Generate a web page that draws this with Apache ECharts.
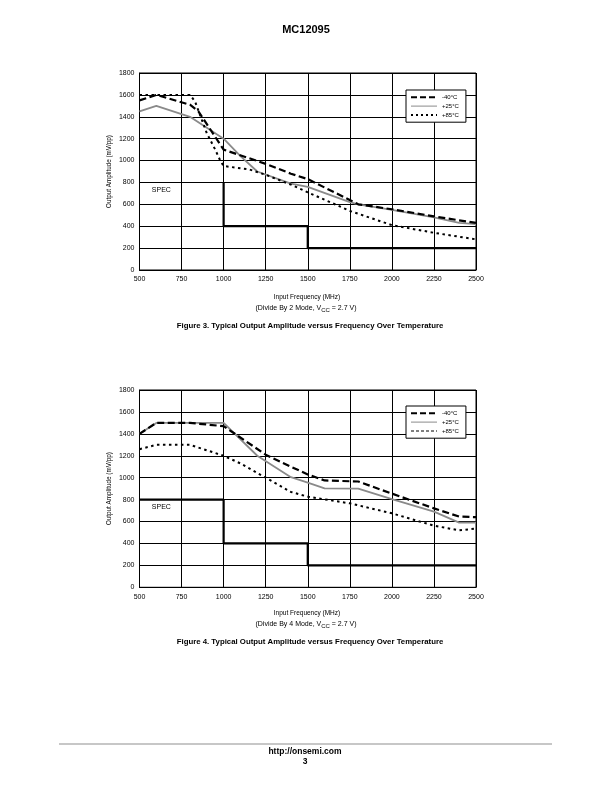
<!DOCTYPE html>
<html><head><meta charset="utf-8">
<style>html,body{margin:0;padding:0;background:#fff}#c{width:612px;height:792px}</style>
<script src="https://cdn.jsdelivr.net/npm/echarts@6/dist/echarts.min.js"></script>
</head><body><div id="c"></div>
<script>
// ---- Figure 3 (Divide by 2) ----
const fig3_m40 = [[500,1550],[600,1600],[800,1510],[850,1450],[1000,1100],[1250,970],[1400,880],[1500,830],[1750,640],[1800,600],[2000,555],[2250,490],[2500,430]];
const fig3_p25 = [[500,1450],[600,1500],[800,1400],[900,1300],[1000,1200],[1100,1040],[1200,900],[1400,790],[1500,760],[1750,620],[1800,600],[2000,550],[2250,480],[2400,430],[2500,420]];
const fig3_p85 = [[500,1600],[800,1600],[830,1540],[900,1250],[950,1100],[980,1000],[1000,950],[1150,920],[1250,870],[1400,780],[1500,710],[1750,540],[2000,410],[2250,340],[2500,280]];
const fig3_spec = [[1000,800],[1000,400],[1500,400],[1500,200],[2500,200]];
// ---- Figure 4 (Divide by 4) ----
const fig4_m40 = [[500,1400],[600,1500],[800,1500],[1000,1470],[1250,1210],[1400,1100],[1500,1030],[1600,975],[1800,965],[2000,855],[2250,720],[2400,645],[2500,640]];
const fig4_p25 = [[500,1400],[600,1500],[1000,1500],[1200,1200],[1400,1005],[1500,955],[1600,903],[1800,900],[2000,805],[2250,690],[2400,590],[2500,590]];
const fig4_p85 = [[500,1260],[600,1300],[800,1300],[1000,1200],[1100,1130],[1250,1000],[1400,870],[1500,827],[1750,766],[2000,675],[2250,562],[2400,520],[2500,535]];
const fig4_spec = [[500,800],[1000,800],[1000,400],[1500,400],[1500,200],[2500,200]];
const specLabelPos = [[630,730]];
const seriesNames = ['-40°C','+25°C','+85°C'];
const xTicks = {min:500, max:2500, interval:250};
const yTicks = {min:0, max:1800, interval:200};

const FONT = "'Liberation Sans', Arial, Helvetica, sans-serif";
const chart = echarts.init(document.getElementById('c'), null, {renderer:'canvas'});

function xAxis(gi){ return {type:'value', gridIndex:gi, min:xTicks.min, max:xTicks.max, interval:xTicks.interval,
  axisLine:{show:true, lineStyle:{color:'#000', width:1}}, axisTick:{show:false},
  axisLabel:{color:'#000', fontSize:7, fontFamily:FONT, margin:6, formatter:v=>String(v)},
  splitLine:{show:true, lineStyle:{color:'#000', width:1}}};}
function yAxis(gi){ return {type:'value', gridIndex:gi, min:yTicks.min, max:yTicks.max, interval:yTicks.interval,
  axisLine:{show:true, lineStyle:{color:'#000', width:1}}, axisTick:{show:false},
  axisLabel:{color:'#000', fontSize:7, fontFamily:FONT, margin:5, formatter:v=>String(v)},
  splitLine:{show:true, lineStyle:{color:'#000', width:1}},
  name:'Output Amplitude (mV/pp)', nameLocation:'middle', nameGap:27, nameMoveOverlap:false,
  nameTextStyle:{color:'#000', fontSize:6.3, fontFamily:FONT}};}

function lineSeries(name, data, gi, style){
  return {name:name, type:'line', xAxisIndex:gi, yAxisIndex:gi, data:data, symbol:'none', silent:true,
    lineStyle:style, itemStyle:{color:style.color}, z:style.z||3};
}
const sM40 = {color:'#000', width:2.2, type:[7,3.5], z:4};
const sP25 = {color:'#8a8a8a', width:1.8, z:3};
const sP85 = {color:'#000', width:2, type:[2.5,3.5], z:5};
const sSpec = {color:'#000', width:2.2, z:2};

function specLabel(gi){ return {type:'scatter', xAxisIndex:gi, yAxisIndex:gi, data:specLabelPos, symbolSize:0, silent:true,
  itemStyle:{color:'#000', opacity:1},
  label:{show:true, position:'inside', formatter:'SPEC', color:'#000', opacity:1, fontSize:7, fontFamily:FONT, textBorderWidth:0}};}

const hideSym = {opacity:0, color:'transparent', borderWidth:0};
function legend(gi, top, p85Icon){
  return {show:true, left:406, top:top, orient:'vertical', padding:[4,7,4,4], itemGap:2.5, itemWidth:26, itemHeight:8,
    borderColor:'#000', borderWidth:1, backgroundColor:'#fff', selectedMode:false,
    formatter:n=>n.slice(2), textStyle:{color:'#000', fontSize:6, fontFamily:FONT},
    data:[{name:gi+' '+seriesNames[0], itemStyle:hideSym, lineStyle:{color:'#000', width:2, type:[6,3]}},
          {name:gi+' '+seriesNames[1], itemStyle:hideSym, lineStyle:{color:'#8a8a8a', width:1}},
          {name:gi+' '+seriesNames[2], itemStyle:hideSym, lineStyle:p85Icon}]};
}

function t(text, x, y, size, bold){
  return {type:'text', x:x, y:y, silent:true, style:{text:text, fill:'#000',
    font:(bold?'bold ':'')+size+'px '+FONT, align:'center', verticalAlign:'middle'}};
}
function sub(mode, x, y){
  return {type:'text', x:x, y:y, silent:true, style:{
    text:'{a|(Divide By '+mode+' Mode, V}{s|CC}{a| = 2.7 V)}', align:'center', verticalAlign:'middle',
    rich:{a:{fontSize:7, fontFamily:FONT, fill:'#000', verticalAlign:'top', lineHeight:9},
          s:{fontSize:6, fontFamily:FONT, fill:'#000', verticalAlign:'top', padding:[2.5,0,0,0], lineHeight:9}}}};
}

chart.setOption({
  animation:false,
  backgroundColor:'#fff',
  grid:[{left:139.5, top:73, width:336.5, height:197, show:true, borderColor:'#000', borderWidth:1},
        {left:139.5, top:390, width:336.5, height:197.3, show:true, borderColor:'#000', borderWidth:1}],
  xAxis:[xAxis(0), xAxis(1)],
  yAxis:[yAxis(0), yAxis(1)],
  legend:[legend(0, 90, {color:'#000', width:2, type:[2,3]}), legend(1, 406, {color:'#000', width:1, type:[3,2]})],
  series:[
    lineSeries('0 '+seriesNames[0], fig3_m40, 0, sM40),
    lineSeries('0 '+seriesNames[1], fig3_p25, 0, sP25),
    lineSeries('0 '+seriesNames[2], fig3_p85, 0, sP85),
    lineSeries('spec0', fig3_spec, 0, sSpec),
    specLabel(0),
    lineSeries('1 '+seriesNames[0], fig4_m40, 1, sM40),
    lineSeries('1 '+seriesNames[1], fig4_p25, 1, sP25),
    lineSeries('1 '+seriesNames[2], fig4_p85, 1, sP85),
    lineSeries('spec1', fig4_spec, 1, sSpec),
    specLabel(1)
  ],
  graphic:[
    t('MC12095', 306, 30, 11, true),
    t('Input Frequency (MHz)', 307, 297, 6.5, false),
    sub('2', 306, 309.5),
    t('Figure 3. Typical Output Amplitude versus Frequency Over Temperature', 310, 326, 7.8, true),
    t('Input Frequency (MHz)', 307, 613.5, 6.5, false),
    sub('4', 306, 625.5),
    t('Figure 4. Typical Output Amplitude versus Frequency Over Temperature', 310, 642, 7.8, true),
    {type:'line', silent:true, shape:{x1:59, y1:744, x2:552, y2:744}, style:{stroke:'#b4b4b4', lineWidth:1.5}},
    t('http://onsemi.com', 305, 752, 8.5, true),
    t('3', 305, 762, 8.5, true)
  ]
});
</script></body></html>
